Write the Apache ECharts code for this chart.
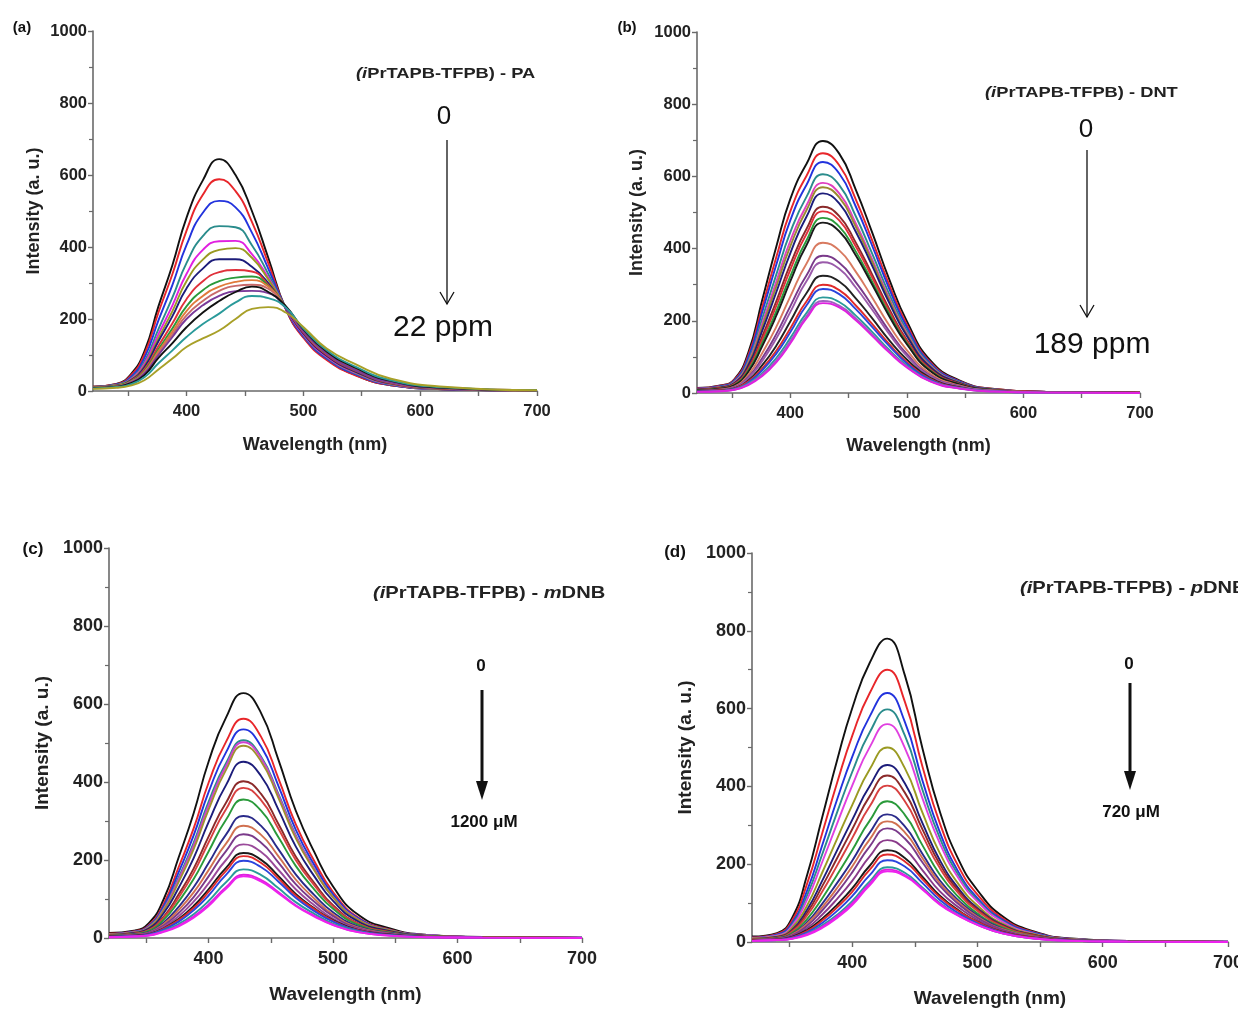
<!DOCTYPE html>
<html><head><meta charset="utf-8">
<script src="https://cdn.jsdelivr.net/npm/echarts@6/dist/echarts.min.js"></script>
<style>html,body{margin:0;padding:0;background:#fff}#c{width:1238px;height:1013px}</style>
</head><body><div id="c"></div><script>
// wavelength sampling (nm)
const wavelengths = [320, 340, 352, 364, 376, 388, 400, 414, 428, 442, 456, 470, 485, 500, 520, 545, 575, 620, 700];
const xTickLabels = [400, 500, 600, 700];
const xTickValues = [350, 400, 450, 500, 550, 600, 650, 700];
const yTickLabels = [0, 200, 400, 600, 800, 1000];

// (a) iPrTAPB-TFPB + PA, 0 -> 22 ppm
const curvesA = [
  [12, 20, 45, 110, 235, 350, 481, 585, 644, 600, 500, 370, 228, 150, 88, 44, 16, 5, 1],
  [12, 19, 42, 102, 218, 325, 445, 545, 588, 555, 470, 355, 228, 148, 86, 43, 16, 5, 1],
  [11, 18, 38, 92, 196, 295, 405, 495, 528, 510, 440, 340, 230, 152, 90, 46, 17, 5, 1],
  [11, 17, 34, 82, 172, 260, 355, 430, 458, 455, 405, 325, 230, 155, 93, 48, 18, 6, 1],
  [10, 16, 32, 76, 158, 238, 325, 392, 416, 417, 380, 315, 230, 157, 95, 50, 19, 6, 1],
  [10, 16, 30, 70, 147, 222, 305, 365, 392, 397, 370, 310, 232, 160, 98, 52, 20, 6, 1],
  [10, 15, 29, 66, 138, 208, 285, 340, 366, 366, 345, 300, 230, 160, 98, 53, 21, 7, 1],
  [9, 14, 27, 60, 125, 188, 255, 305, 330, 336, 332, 295, 232, 163, 101, 56, 22, 7, 1],
  [9, 14, 26, 56, 116, 174, 235, 280, 305, 315, 318, 292, 234, 166, 104, 58, 24, 8, 1],
  [9, 13, 25, 53, 110, 165, 222, 264, 290, 303, 308, 290, 234, 167, 106, 60, 25, 8, 2],
  [8, 13, 24, 51, 105, 157, 210, 250, 278, 292, 295, 284, 232, 166, 105, 59, 24, 8, 1],
  [8, 12, 23, 49, 100, 150, 200, 238, 264, 277, 278, 272, 230, 166, 104, 58, 24, 8, 1],
  [8, 12, 21, 44, 92, 133, 177, 218, 250, 275, 290, 275, 236, 172, 110, 64, 28, 9, 2],
  [7, 11, 18, 38, 77, 113, 150, 186, 215, 246, 264, 258, 232, 174, 113, 67, 30, 10, 2],
  [6, 9, 15, 30, 60, 90, 122, 146, 168, 200, 228, 233, 218, 178, 118, 74, 34, 12, 2]
];
const colorsA = ['#111111', '#e8262a', '#2233dd', '#2a8c8c', '#e020e0', '#9a9a22', '#1c1c7a', '#e0303a', '#2a9a3a', '#e07a3a', '#c86a6a', '#7a3a9a', '#111111', '#2a9a9a', '#a8a028'];

// (b) iPrTAPB-TFPB + DNT, 0 -> 189 ppm
const curvesB = [
  [14, 21, 38, 112, 258, 405, 537, 635, 698, 663, 565, 447, 314, 199, 91, 35, 11, 3, 1],
  [13, 20, 36, 104, 239, 376, 503, 602, 664, 631, 538, 425, 299, 189, 86, 33, 11, 3, 1],
  [12, 19, 34, 98, 225, 355, 478, 577, 640, 608, 518, 410, 288, 182, 83, 32, 10, 3, 1],
  [11, 17, 32, 90, 207, 328, 445, 544, 606, 576, 491, 388, 273, 173, 79, 30, 10, 3, 1],
  [11, 16, 30, 84, 193, 308, 421, 520, 582, 553, 471, 372, 262, 166, 76, 29, 9, 3, 1],
  [10, 16, 28, 81, 184, 295, 406, 507, 570, 542, 462, 365, 257, 162, 74, 29, 9, 3, 1],
  [10, 15, 27, 76, 173, 279, 387, 489, 553, 525, 448, 354, 249, 158, 72, 28, 9, 3, 1],
  [9, 14, 25, 69, 157, 254, 356, 455, 516, 490, 418, 330, 232, 147, 67, 26, 8, 3, 1],
  [8, 13, 24, 66, 148, 241, 341, 441, 503, 478, 407, 322, 226, 143, 65, 25, 8, 3, 1],
  [8, 12, 22, 62, 138, 226, 323, 423, 485, 461, 393, 310, 218, 138, 63, 24, 8, 2, 0],
  [7, 12, 21, 58, 130, 214, 309, 410, 472, 448, 382, 302, 212, 135, 61, 24, 8, 2, 0],
  [6, 10, 18, 50, 111, 183, 267, 359, 416, 395, 337, 266, 187, 119, 54, 21, 7, 2, 0],
  [6, 9, 16, 44, 97, 163, 240, 326, 380, 361, 308, 243, 171, 108, 49, 19, 6, 2, 0],
  [5, 8, 15, 41, 89, 151, 224, 310, 362, 344, 293, 232, 163, 103, 47, 18, 6, 2, 0],
  [5, 7, 13, 35, 77, 131, 198, 277, 325, 309, 263, 208, 146, 93, 42, 16, 5, 2, 0],
  [4, 7, 12, 32, 68, 117, 179, 254, 300, 285, 243, 192, 135, 86, 39, 15, 5, 2, 0],
  [4, 6, 11, 29, 63, 109, 168, 243, 288, 274, 233, 184, 130, 82, 37, 14, 5, 1, 0],
  [3, 6, 10, 26, 55, 97, 152, 222, 265, 252, 215, 170, 119, 76, 34, 13, 4, 1, 0],
  [3, 5, 9, 24, 51, 90, 143, 213, 255, 242, 207, 163, 115, 73, 33, 13, 4, 1, 0],
  [3, 5, 9, 22, 47, 85, 137, 207, 249, 237, 202, 159, 112, 71, 32, 12, 4, 1, 0]
];
const colorsB = ['#111111', '#e8262a', '#2233dd', '#2a8c8c', '#e040c0', '#9a8a30', '#1c1c7a', '#8b2a2a', '#e0303a', '#2a9a3a', '#1a1a1a', '#d87a60', '#7a3a8a', '#9a5aaa', '#222222', '#e02a2a', '#2a44dd', '#2a9a9a', '#a060c0', '#e020e0'];

// (c) iPrTAPB-TFPB + mDNB, 0 -> 1200 uM
const curvesC = [
  [13, 19, 38, 100, 207, 320, 452, 565, 628, 578, 458, 327, 220, 132, 60, 25, 8, 3, 1],
  [11, 17, 33, 88, 182, 281, 398, 503, 562, 517, 410, 292, 197, 118, 53, 22, 7, 2, 1],
  [10, 16, 31, 82, 169, 263, 374, 476, 535, 492, 391, 278, 187, 112, 51, 21, 7, 2, 1],
  [10, 15, 29, 77, 156, 244, 349, 448, 507, 466, 370, 264, 177, 106, 48, 20, 7, 2, 1],
  [10, 15, 28, 74, 151, 237, 340, 441, 502, 462, 366, 261, 176, 105, 48, 20, 7, 2, 1],
  [9, 14, 27, 71, 144, 228, 329, 431, 493, 454, 360, 256, 173, 104, 47, 20, 6, 2, 0],
  [8, 13, 24, 64, 129, 205, 297, 392, 452, 416, 330, 235, 158, 95, 43, 18, 6, 2, 0],
  [7, 11, 21, 55, 112, 178, 260, 347, 402, 370, 293, 209, 141, 84, 38, 16, 5, 2, 0],
  [7, 11, 20, 52, 104, 167, 245, 330, 385, 354, 281, 200, 135, 81, 37, 15, 5, 2, 0],
  [6, 10, 18, 47, 94, 151, 222, 303, 355, 327, 259, 185, 124, 75, 34, 14, 5, 1, 0],
  [5, 9, 15, 40, 80, 130, 192, 265, 313, 288, 228, 163, 110, 66, 30, 13, 4, 1, 0],
  [5, 8, 14, 36, 72, 117, 174, 242, 288, 265, 210, 150, 101, 60, 27, 12, 4, 1, 0],
  [4, 7, 13, 32, 64, 105, 158, 223, 266, 245, 194, 138, 93, 56, 25, 11, 3, 1, 0],
  [4, 6, 11, 29, 56, 93, 140, 200, 240, 221, 175, 125, 84, 50, 23, 10, 3, 1, 0],
  [4, 6, 10, 25, 49, 82, 125, 180, 218, 201, 159, 113, 76, 46, 21, 9, 3, 1, 0],
  [3, 5, 9, 24, 46, 77, 118, 172, 210, 193, 153, 109, 74, 44, 20, 8, 3, 1, 0],
  [3, 5, 9, 22, 42, 71, 109, 162, 198, 182, 145, 103, 69, 42, 19, 8, 3, 1, 0],
  [3, 4, 7, 19, 36, 61, 95, 143, 176, 162, 128, 92, 62, 37, 17, 7, 2, 1, 0],
  [2, 4, 7, 17, 32, 55, 86, 130, 162, 149, 118, 84, 57, 34, 15, 6, 2, 1, 0],
  [2, 4, 6, 16, 30, 52, 82, 126, 158, 145, 115, 82, 55, 33, 15, 6, 2, 1, 0]
];
const colorsC = ['#111111', '#e8262a', '#2233dd', '#2a8c8c', '#d040d0', '#a09030', '#1c1c7a', '#8b2a2a', '#d84040', '#2a9a3a', '#2a2a8a', '#d07050', '#7a3a8a', '#9a4a9a', '#1a1a1a', '#e02a2a', '#2a44dd', '#2a9a9a', '#e020e0', '#ee22ee'];

// (d) iPrTAPB-TFPB + pDNB, 0 -> 720 uM
const curvesD = [
  [14, 23, 62, 172, 320, 468, 601, 718, 780, 686, 499, 335, 211, 133, 66, 27, 9, 3, 1],
  [12, 21, 55, 150, 279, 410, 530, 640, 700, 618, 452, 305, 193, 122, 61, 25, 8, 3, 1],
  [11, 19, 49, 132, 248, 367, 476, 580, 640, 566, 416, 282, 179, 113, 57, 24, 8, 3, 1],
  [10, 17, 44, 120, 225, 334, 437, 539, 598, 531, 392, 267, 171, 108, 54, 22, 7, 2, 1],
  [10, 16, 41, 109, 205, 305, 402, 501, 560, 499, 370, 253, 163, 104, 52, 21, 7, 2, 1],
  [9, 14, 36, 94, 178, 266, 352, 444, 500, 447, 333, 228, 148, 94, 47, 20, 7, 2, 0],
  [8, 13, 31, 83, 157, 236, 314, 401, 455, 408, 306, 210, 137, 87, 44, 18, 6, 2, 0],
  [7, 12, 29, 75, 143, 216, 290, 375, 428, 384, 290, 200, 131, 84, 42, 18, 6, 2, 0],
  [7, 11, 26, 68, 129, 197, 267, 349, 402, 362, 274, 190, 125, 80, 40, 16, 5, 2, 0],
  [6, 10, 23, 59, 112, 173, 236, 312, 362, 327, 249, 173, 115, 73, 37, 15, 5, 1, 0],
  [5, 9, 20, 51, 98, 152, 209, 281, 328, 297, 227, 158, 106, 68, 34, 14, 5, 2, 0],
  [5, 8, 19, 47, 89, 139, 194, 264, 310, 282, 216, 151, 102, 65, 33, 14, 4, 2, 0],
  [5, 8, 17, 42, 81, 127, 179, 246, 292, 266, 205, 144, 97, 62, 31, 13, 4, 1, 0],
  [4, 7, 15, 36, 70, 111, 157, 220, 262, 239, 185, 130, 89, 57, 29, 12, 4, 1, 0],
  [4, 6, 13, 31, 60, 96, 138, 196, 236, 216, 168, 119, 81, 52, 26, 11, 3, 1, 0],
  [4, 6, 12, 28, 55, 89, 129, 186, 225, 207, 162, 115, 79, 51, 25, 11, 3, 1, 0],
  [3, 5, 11, 25, 49, 80, 118, 172, 210, 194, 152, 108, 74, 48, 24, 10, 3, 1, 0],
  [3, 5, 9, 22, 43, 70, 105, 156, 192, 178, 140, 100, 69, 45, 22, 9, 3, 1, 0],
  [3, 5, 9, 20, 39, 66, 99, 150, 186, 172, 137, 98, 68, 44, 22, 9, 3, 1, 0],
  [3, 5, 8, 18, 36, 62, 95, 146, 182, 169, 135, 96, 67, 44, 22, 9, 3, 1, 0]
];
const colorsD = ['#111111', '#e8262a', '#2233dd', '#2a8c8c', '#e040e0', '#9a9a22', '#1c1c7a', '#8b2a2a', '#d84040', '#2a9a3a', '#2a2a8a', '#d07050', '#7a3a8a', '#8a3a8a', '#1a1a1a', '#e02a2a', '#2a44dd', '#2a9a9a', '#e020e0', '#ee22ee'];

const FONT = "'Liberation Sans', Arial, sans-serif";
const panels = [
  { curves: curvesA, colors: colorsA, grid: { left: 93, top: 31, width: 444, height: 360 }, lab: 16.5, nam: 18, xGap: 45, yGap: 50, lm: 12 },
  { curves: curvesB, colors: colorsB, grid: { left: 697, top: 32, width: 443, height: 361 }, lab: 16.5, nam: 18, xGap: 44, yGap: 51, lm: 12 },
  { curves: curvesC, colors: colorsC, grid: { left: 109, top: 548, width: 473, height: 390 }, lab: 18, nam: 19, xGap: 47, yGap: 57, lm: 12 },
  { curves: curvesD, colors: colorsD, grid: { left: 752, top: 553, width: 476, height: 389 }, lab: 18, nam: 19, xGap: 47, yGap: 57, lm: 12 }
];

const grids = [], xAxes = [], yAxes = [], series = [];
panels.forEach((p, i) => {
  grids.push(Object.assign({ containLabel: false, outerBoundsMode: 'none' }, p.grid));
  const axisLine = { show: true, onZero: false, lineStyle: { color: '#6a6a6a', width: 1.6 } };
  xAxes.push({
    type: 'value', gridIndex: i, min: 320, max: 700,
    name: 'Wavelength (nm)', nameLocation: 'middle', nameGap: p.xGap,
    nameTextStyle: { fontFamily: FONT, fontWeight: 'bold', fontSize: p.nam, color: '#222' },
    axisLine: axisLine,
    axisTick: { show: true, customValues: xTickValues, length: 5, lineStyle: { color: '#6a6a6a', width: 1.4 } },
    axisLabel: { customValues: xTickLabels, formatter: v => String(v), fontFamily: FONT, fontWeight: 'bold', fontSize: p.lab, color: '#222', margin: p.lm },
    splitLine: { show: false }
  });
  yAxes.push({
    type: 'value', gridIndex: i, min: 0, max: 1000, interval: 200,
    name: 'Intensity (a. u.)', nameLocation: 'middle', nameGap: p.yGap,
    nameTextStyle: { fontFamily: FONT, fontWeight: 'bold', fontSize: p.nam, color: '#222' },
    axisLine: axisLine,
    axisTick: { show: true, length: 5, lineStyle: { color: '#6a6a6a', width: 1.4 } },
    minorTick: { show: true, splitNumber: 2, length: 4, lineStyle: { color: '#6a6a6a', width: 1.2 } },
    axisLabel: { formatter: v => String(v), fontFamily: FONT, fontWeight: 'bold', fontSize: p.lab, color: '#222', margin: 6 },
    splitLine: { show: false }
  });
  p.curves.forEach((vals, j) => {
    series.push({
      type: 'line', xAxisIndex: i, yAxisIndex: i,
      data: wavelengths.map((w, k) => [w, vals[k]]),
      showSymbol: false, smooth: 0.5, silent: true,
      lineStyle: { width: 1.9, color: p.colors[j] }, itemStyle: { color: p.colors[j] },
      z: 2
    });
  });
});

function txt(x, y, text, size, weight) {
  return {
    type: 'text', x: x, y: y, silent: true, z: 10,
    style: { text: text, fill: '#111', fontFamily: FONT, fontSize: size, fontWeight: weight, align: 'center', verticalAlign: 'middle' }
  };
}
function title(x, y, size, tail, italicLead) {
  const rich = {
    n: { fontFamily: FONT, fontSize: size, fontWeight: 'bold', fill: '#222' },
    i: { fontFamily: FONT, fontSize: size, fontWeight: 'bold', fontStyle: 'italic', fill: '#222' }
  };
  const t = italicLead ? '{i|(i}{n|PrTAPB-TFPB) - }{i|' + italicLead + '}{n|' + tail + '}' : '{i|(i}{n|PrTAPB-TFPB) - ' + tail + '}';
  return { type: 'text', x: x, y: y, scaleX: 1.22, silent: true, z: 10,
    style: { text: t, rich: rich, align: 'left', verticalAlign: 'middle' } };
}
const graphics = [
  txt(22, 28, '(a)', 15, 'bold'),
  txt(627, 28, '(b)', 15, 'bold'),
  txt(33, 549, '(c)', 17, 'bold'),
  txt(675, 552, '(d)', 17, 'bold'),
  title(356, 74, 15, 'PA'),
  title(985, 93, 15, 'DNT'),
  title(373, 593, 16.5, 'DNB', 'm'),
  title(1020, 588, 16.5, 'DNB', 'p'),
  txt(444, 117, '0', 26, 'normal'),
  txt(443, 328, '22 ppm', 30, 'normal'),
  txt(1086, 130, '0', 26, 'normal'),
  txt(1092, 345, '189 ppm', 30, 'normal'),
  txt(481, 666, '0', 17, 'bold'),
  txt(484, 822, '1200 μM', 17, 'bold'),
  txt(1129, 664, '0', 17, 'bold'),
  txt(1131, 812, '720 μM', 17, 'bold'),
  // arrows
  { type: 'line', silent: true, shape: { x1: 447, y1: 140, x2: 447, y2: 304 }, style: { stroke: '#111', lineWidth: 1.3 } },
  { type: 'polyline', silent: true, shape: { points: [[440, 292], [447, 304], [454, 292]] }, style: { stroke: '#111', lineWidth: 1.3, fill: null } },
  { type: 'line', silent: true, shape: { x1: 1087, y1: 150, x2: 1087, y2: 317 }, style: { stroke: '#111', lineWidth: 1.3 } },
  { type: 'polyline', silent: true, shape: { points: [[1080, 305], [1087, 317], [1094, 305]] }, style: { stroke: '#111', lineWidth: 1.3, fill: null } },
  { type: 'line', silent: true, shape: { x1: 482, y1: 690, x2: 482, y2: 785 }, style: { stroke: '#111', lineWidth: 3 } },
  { type: 'polygon', silent: true, shape: { points: [[476, 781], [488, 781], [482, 800]] }, style: { fill: '#111' } },
  { type: 'line', silent: true, shape: { x1: 1130, y1: 683, x2: 1130, y2: 775 }, style: { stroke: '#111', lineWidth: 3 } },
  { type: 'polygon', silent: true, shape: { points: [[1124, 771], [1136, 771], [1130, 790]] }, style: { fill: '#111' } }
];

const chart = echarts.init(document.getElementById('c'), null, { renderer: 'canvas' });
chart.setOption({
  backgroundColor: '#ffffff',
  animation: false,
  grid: grids, xAxis: xAxes, yAxis: yAxes, series: series,
  graphic: graphics
});
</script></body></html>
